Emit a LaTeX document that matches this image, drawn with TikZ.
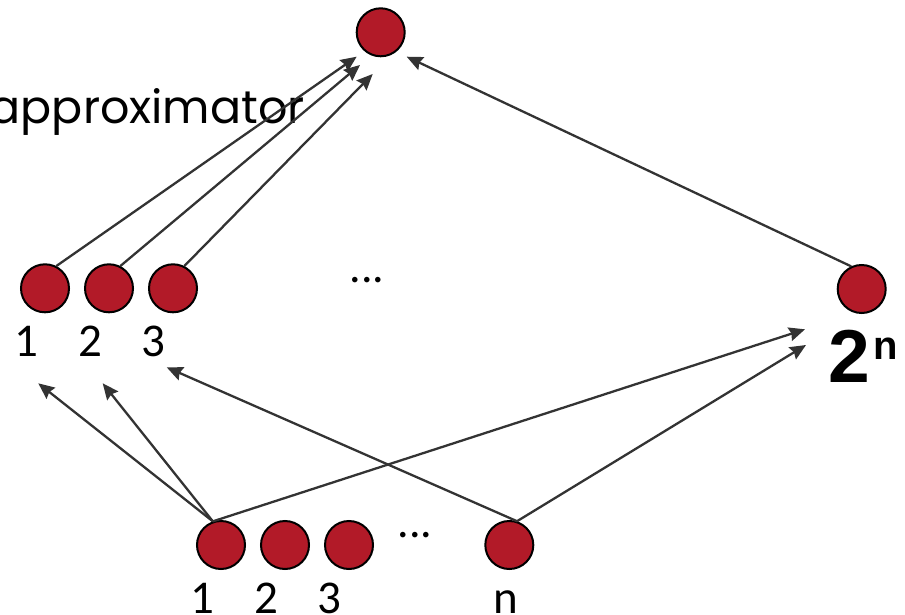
\documentclass[tikz,border=0pt]{standalone}
\usepackage{fontspec}
\setmainfont{Carlito}
\newfontfamily\geofont{Poppins}
\newfontfamily\boldsans{Liberation Sans}
\usetikzlibrary{arrows.meta}
\definecolor{unitred}{RGB}{178,26,40}
\definecolor{wire}{RGB}{51,51,51}
\tikzset{
  unit/.style={circle, draw=black, line width=2pt, fill=unitred, minimum size=48pt, inner sep=0pt},
  link/.style={draw=wire, line width=2.3pt, -{Stealth[length=16pt,width=14pt,inset=2pt]}},
  idx/.style={inner sep=0pt, anchor=base, font=\fontsize{47}{47}\selectfont},
  dots/.style={inner sep=0pt, anchor=base, font=\fontsize{46}{46}\selectfont}
}
\begin{document}
\begin{tikzpicture}[x=1pt,y=-1pt]
\useasboundingbox (0,0) rectangle (905,615);

% label of the output unit
\node[inner sep=0pt, anchor=base east, font=\geofont\fontsize{46}{46}\selectfont] (lbl) at (305,124) {approximator};

% output unit
\node[unit] (top) at (380.7,32.3) {};

% hidden layer
\node[unit] (m1) at (45,288.3) {};
\node[unit] (m2) at (109,288.3) {};
\node[unit] (m3) at (173,288.3) {};
\node[unit] (m4) at (861.7,289) {};
\node[dots] (mdots) at (367,282) {...};
\node[idx] (lm1) at (26,356.7) {1};
\node[idx] (lm2) at (90,356.7) {2};
\node[idx] (lm3) at (153,356.7) {3};
\node[inner sep=0pt, anchor=base west, font=\boldsans\bfseries\fontsize{75}{75}\selectfont] (lm4) at (828,382.7) {2};
\node[inner sep=0pt, anchor=base west, font=\boldsans\bfseries\fontsize{40}{40}\selectfont] (lm4n) at (lm4.base east) [yshift=23pt, xshift=3pt] {n};

% input layer
\node[unit] (b1) at (221,545) {};
\node[unit] (b2) at (285,545) {};
\node[unit] (b3) at (349,545) {};
\node[unit] (bn) at (509.3,545) {};
\node[dots] (bdots) at (415,537) {...};
\node[idx] (lb1) at (202.7,613) {1};
\node[idx] (lb2) at (266,613) {2};
\node[idx] (lb3) at (329,613) {3};
\node[idx] (lbn) at (505.7,613) {n};

% arrow tips
\coordinate (t1) at (356.7,56.7);
\coordinate (t2) at (360,65);
\coordinate (t3) at (372.7,74);
\coordinate (t4) at (406.7,56.7);
\coordinate (u1) at (38.3,383.3);
\coordinate (u2) at (102.7,383.3);
\coordinate (u3) at (166.7,367.3);
\coordinate (u4a) at (805,329.3);
\coordinate (u4b) at (806,345);

% hidden to output
\draw[link] (m1.63) -- (t1);
\draw[link] (m2.63) -- (t2);
\draw[link] (m3.63) -- (t3);
\draw[link] (m4.115) -- (t4);

% input to hidden
\draw[link] (b1.109) -- (u1);
\draw[link] (b1.109) -- (u2);
\draw[link] (b1.109) -- (u4a);
\draw[link] (bn.72) -- (u3);
\draw[link] (bn.72) -- (u4b);
\end{tikzpicture}
\end{document}
